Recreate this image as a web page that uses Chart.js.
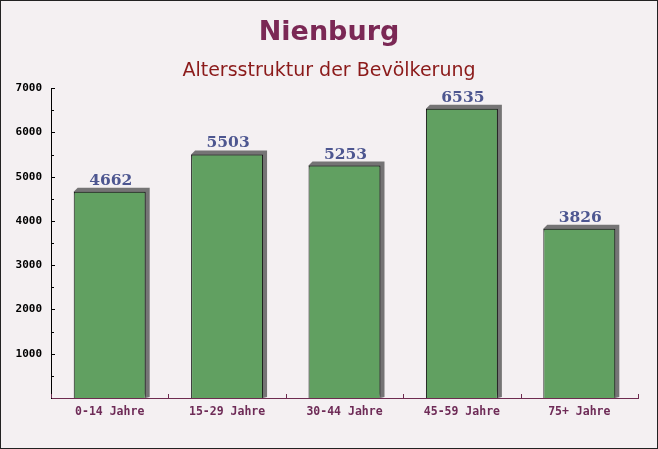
<!DOCTYPE html>
<html>
<head>
<meta charset="utf-8">
<script src="https://cdn.jsdelivr.net/npm/chart.js@4/dist/chart.umd.min.js"></script>
<style>
html,body{margin:0;padding:0;background:#f4f0f2;}
#wrap{width:658px;height:449px;}
</style>
</head>
<body>
<div id="wrap"><canvas id="c" width="658" height="449"></canvas></div>
<script>
const categories = ["0-14 Jahre", "15-29 Jahre", "30-44 Jahre", "45-59 Jahre", "75+ Jahre"];
const values = [4662, 5503, 5253, 6535, 3826];
const yMax = 7000;
const yStep = 500;

const bgPlugin = {
  id: 'bg',
  beforeDraw(chart) {
    const ctx = chart.ctx;
    ctx.save();
    ctx.fillStyle = '#f4f0f2';
    ctx.fillRect(0, 0, chart.width, chart.height);
    ctx.restore();
  },
  afterDraw(chart) {
    const ctx = chart.ctx;
    ctx.save();
    ctx.strokeStyle = '#222';
    ctx.lineWidth = 1;
    ctx.strokeRect(0.5, 0.5, chart.width - 1, chart.height - 1);
    const y = chart.scales.y, x = chart.scales.x;
    ctx.strokeStyle = '#000';
    y.ticks.forEach(t => {
      if (t.value === 0) return;
      const py = Math.round(y.getPixelForValue(t.value)) + 0.5;
      const len = (t.value % 1000 === 0) ? 4 : 3;
      ctx.beginPath();
      ctx.moveTo(y.right, py);
      ctx.lineTo(y.right + len, py);
      ctx.stroke();
    });
    ctx.strokeStyle = '#6e2b50';
    const n = categories.length;
    for (let i = 0; i <= n; i++) {
      const px = Math.round(x.left + (x.right - x.left) * i / n) + 0.5;
      ctx.beginPath();
      ctx.moveTo(px, x.top);
      ctx.lineTo(px, x.top - 4);
      ctx.stroke();
    }
    ctx.restore();
  }
};

const shadowPlugin = {
  id: 'shadow3d',
  beforeDatasetsDraw(chart) {
    const ctx = chart.ctx;
    const meta = chart.getDatasetMeta(0);
    const d = 4;
    ctx.save();
    ctx.fillStyle = 'rgba(85,85,85,0.8)';
    meta.data.forEach(bar => {
      const p = bar.getProps(['x', 'y', 'base', 'width'], true);
      const l = p.x - p.width / 2, r = p.x + p.width / 2;
      ctx.beginPath();
      ctx.moveTo(l, p.y);
      ctx.lineTo(l + d, p.y - d);
      ctx.lineTo(r + d, p.y - d);
      ctx.lineTo(r + d, p.base - 1);
      ctx.lineTo(r, p.base);
      ctx.closePath();
      ctx.fill();
    });
    ctx.restore();
  },
  afterDatasetsDraw(chart) {
    const ctx = chart.ctx;
    const meta = chart.getDatasetMeta(0);
    ctx.save();
    ctx.font = 'bold 15.5px "DejaVu Serif"';
    ctx.fillStyle = '#4d5690';
    ctx.textAlign = 'center';
    ctx.textBaseline = 'alphabetic';
    meta.data.forEach((bar, i) => {
      const p = bar.getProps(['x', 'y'], true);
      ctx.fillText(String(values[i]), p.x + 1, p.y - 7);
    });
    ctx.restore();
  }
};

new Chart(document.getElementById('c'), {
  type: 'bar',
  data: {
    labels: categories,
    datasets: [{
      data: values,
      backgroundColor: '#61a061',
      borderColor: '#111',
      borderWidth: {top: 1, left: 1, right: 1, bottom: 0},
      borderSkipped: 'bottom',
      categoryPercentage: 1,
      barPercentage: 0.613
    }]
  },
  options: {
    responsive: false,
    animation: false,
    devicePixelRatio: 1,
    layout: {padding: 0},
    plugins: {
      legend: {display: false},
      tooltip: {enabled: false},
      title: {
        display: true,
        text: 'Nienburg',
        color: '#7b2855',
        font: {family: 'DejaVu Sans', size: 27, weight: 'bold', lineHeight: 1.2},
        padding: {top: 17, bottom: 10}
      },
      subtitle: {
        display: true,
        text: 'Altersstruktur der Bevölkerung',
        color: '#8b1a1a',
        font: {family: 'DejaVu Sans', size: 19, weight: 'normal', lineHeight: 1.2},
        padding: {top: 0, bottom: 6}
      }
    },
    scales: {
      x: {
        grid: {display: false, drawTicks: false},
        border: {display: true, color: '#6e2b50', width: 1},
        ticks: {
          color: '#6e2b57',
          font: {family: 'DejaVu Sans Mono', size: 11.5, weight: 'bold'},
          padding: 7,
          maxRotation: 0
        },
        afterFit(s) { s.height = 51; }
      },
      y: {
        min: 0,
        max: yMax,
        grid: {display: false, drawTicks: false},
        border: {display: true, color: '#000', width: 1},
        ticks: {
          stepSize: yStep,
          autoSkip: false,
          color: '#000',
          font: {family: 'DejaVu Sans Mono', size: 11, weight: 'bold'},
          padding: 9,
          callback: v => (v % 1000 === 0 && v > 0) ? String(v) : ''
        },
        afterFit(s) { s.width = 51; }
      },
      yRight: {
        position: 'right',
        min: 0,
        max: yMax,
        grid: {display: false, drawTicks: false},
        border: {display: false},
        ticks: {display: false},
        afterFit(s) { s.width = 20; }
      }
    }
  },
  plugins: [bgPlugin, shadowPlugin]
});
</script>
</body>
</html>
